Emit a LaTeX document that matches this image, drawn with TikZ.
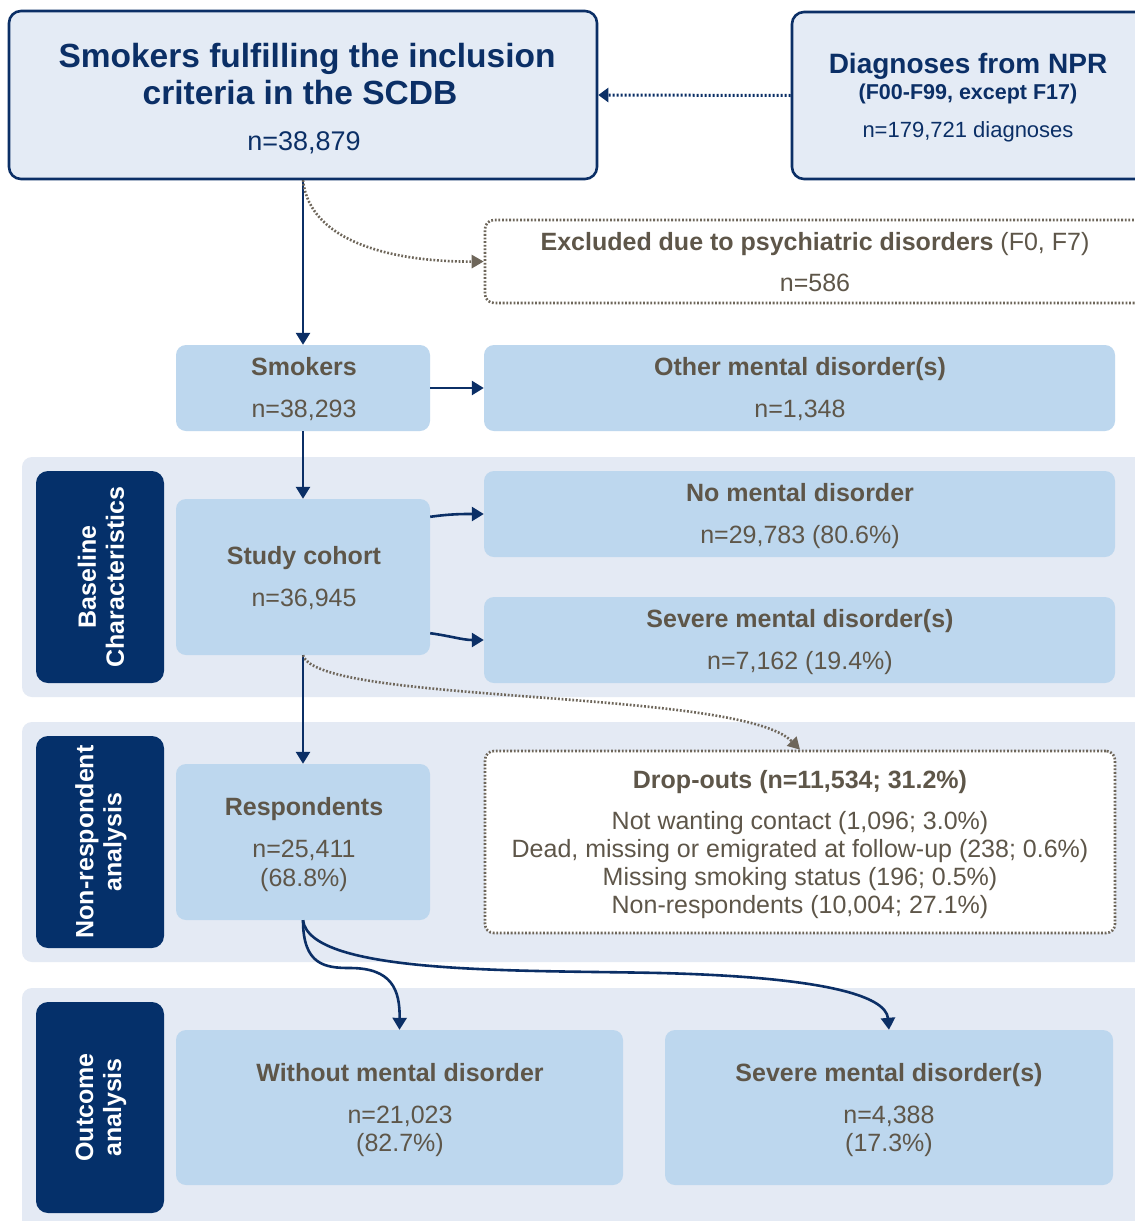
\documentclass[tikz,border=0pt]{standalone}
\usepackage{fontspec}
\setmainfont{Liberation Sans}
\usetikzlibrary{arrows.meta,calc}
\definecolor{navy}{HTML}{0B2F66}
\definecolor{labnavy}{HTML}{05306A}
\definecolor{topfill}{HTML}{E4EBF5}
\definecolor{bandfill}{HTML}{E4EAF4}
\definecolor{nodefill}{HTML}{BDD7EE}
\definecolor{graytxt}{HTML}{5E5649}
\definecolor{dotgray}{HTML}{6E665A}
\begin{document}
\begin{tikzpicture}[x=1pt,y=-1pt,
  topbox/.style={draw=navy,line width=2.6pt,fill=topfill,rounded corners=12pt,inner sep=0pt},
  nbox/.style={fill=nodefill,rounded corners=10pt,inner sep=0pt},
  band/.style={fill=bandfill,rounded corners=10pt,inner sep=0pt},
  labbox/.style={fill=labnavy,rounded corners=12pt,inner sep=0pt},
  dotbox/.style={draw=dotgray,line width=2.6pt,dash pattern=on 1.8pt off 1.8pt,rounded corners=9pt,fill=white,inner sep=0pt},
  gtxt/.style={text=graytxt,anchor=base,inner sep=0pt,font=\fontsize{25}{28}\selectfont},
  ntxt/.style={text=navy,anchor=base,inner sep=0pt},
  labtxt/.style={text=white,rotate=90,align=center,inner sep=0pt,font=\bfseries\fontsize{25}{28}\selectfont},
  arr/.style={draw=navy,line width=2.6pt,-{Triangle[width=14pt,length=12pt]}},
  dotarr/.style={draw=dotgray,line width=2.6pt,dash pattern=on 1.8pt off 1.8pt,-{Triangle[width=13pt,length=12pt]}},
  navydot/.style={draw=navy,line width=3pt,dash pattern=on 2pt off 2pt,-{Triangle[width=14pt,length=10pt]}}
]
\clip (0,0) rectangle (1135,1221);
\fill[white] (0,0) rectangle (1135,1221);

% bands
\node[band,minimum width=1160pt,minimum height=240pt] (b1) at (602,577) {};
\node[band,minimum width=1160pt,minimum height=240pt] (b2) at (602,842) {};
\node[band,minimum width=1160pt,minimum height=260pt] (b3) at (602,1118) {};

% top boxes
\node[topbox,minimum width=588pt,minimum height=168pt] (top) at (303,95) {};
\node[ntxt,font=\bfseries\fontsize{33.5}{37}\selectfont] (toptA) at (307,67) {Smokers fulfilling the inclusion};
\node[ntxt,font=\bfseries\fontsize{33.5}{37}\selectfont] (toptB) at (300,104) {criteria in the SCDB};
\node[ntxt,font=\fontsize{27}{30}\selectfont] (toptC) at (304,150) {n=38,879};

\node[topbox,minimum width=358pt,minimum height=167pt] (npr) at (971,95.5) {};
\node[ntxt,font=\bfseries\fontsize{28}{30}\selectfont] (nprA) at (968,73) {Diagnoses from NPR};
\node[ntxt,font=\bfseries\fontsize{21.5}{24}\selectfont] (nprB) at (968,99) {(F00-F99, except F17)};
\node[ntxt,font=\fontsize{22}{24}\selectfont] (nprC) at (968,137) {n=179,721 diagnoses};

\node[dotbox,minimum width=665pt,minimum height=83pt] (exc) at (817.5,261.5) {};
\node[gtxt] (excA) at (815,250) {\textbf{Excluded due to psychiatric disorders} (F0, F7)};
\node[gtxt] (excB) at (815,291) {n=586};

% smokers row
\node[nbox,minimum width=254pt,minimum height=86pt] (smk) at (303,388) {};
\node[gtxt] (smkA) at (304,375) {\textbf{Smokers}};
\node[gtxt] (smkB) at (304,417) {n=38,293};
\node[nbox,minimum width=631pt,minimum height=86pt] (oth) at (799.5,388) {};
\node[gtxt] (othA) at (800,375) {\textbf{Other mental disorder(s)}};
\node[gtxt] (othB) at (800,417) {n=1,348};

% baseline
\node[labbox,minimum width=128pt,minimum height=212pt] (lab1) at (100,577) {};
\node[labtxt] (lab1t) at (101,577) {Baseline\\Characteristics};
\node[nbox,minimum width=254pt,minimum height=156pt] (sc) at (303,577) {};
\node[gtxt] (scA) at (304,564) {\textbf{Study cohort}};
\node[gtxt] (scB) at (304,606) {n=36,945};
\node[nbox,minimum width=631pt,minimum height=86pt] (nomd) at (799.5,514) {};
\node[gtxt] (nomdA) at (800,501) {\textbf{No mental disorder}};
\node[gtxt] (nomdB) at (800,543) {n=29,783 (80.6\%)};
\node[nbox,minimum width=631pt,minimum height=86pt] (smd) at (799.5,640) {};
\node[gtxt] (smdA) at (800,627) {\textbf{Severe mental disorder(s)}};
\node[gtxt] (smdB) at (800,669) {n=7,162 (19.4\%)};

% non-respondent
\node[labbox,minimum width=128pt,minimum height=212pt] (lab2) at (100,842) {};
\node[labtxt] (lab2t) at (101,842) {Non-respondent\\analysis};
\node[nbox,minimum width=254pt,minimum height=156pt] (resp) at (303,842) {};
\node[gtxt] (respA) at (304,815) {\textbf{Respondents}};
\node[gtxt] (respB) at (304,857) {n=25,411};
\node[gtxt] (respC) at (304,886) {(68.8\%)};
\node[dotbox,minimum width=630pt,minimum height=182pt] (drop) at (800,842) {};
\node[gtxt] (dropA) at (800,788) {\textbf{Drop-outs (n=11,534; 31.2\%)}};
\node[gtxt] (dropB) at (800,829) {Not wanting contact (1,096; 3.0\%)};
\node[gtxt] (dropC) at (800,857) {Dead, missing or emigrated at follow-up (238; 0.6\%)};
\node[gtxt] (dropD) at (800,885) {Missing smoking status (196; 0.5\%)};
\node[gtxt] (dropE) at (800,913) {Non-respondents (10,004; 27.1\%)};

% outcome
\node[labbox,minimum width=128pt,minimum height=211pt] (lab3) at (100,1107.5) {};
\node[labtxt] (lab3t) at (101,1107.5) {Outcome\\analysis};
\node[nbox,minimum width=447pt,minimum height=155pt] (wmd) at (399.5,1107.5) {};
\node[gtxt] (wmdA) at (400,1081) {\textbf{Without mental disorder}};
\node[gtxt] (wmdB) at (400,1123) {n=21,023};
\node[gtxt] (wmdC) at (400,1151) {(82.7\%)};
\node[nbox,minimum width=448pt,minimum height=155pt] (smd2) at (889,1107.5) {};
\node[gtxt] (smd2A) at (889,1081) {\textbf{Severe mental disorder(s)}};
\node[gtxt] (smd2B) at (889,1123) {n=4,388};
\node[gtxt] (smd2C) at (889,1151) {(17.3\%)};

% connectors
\draw[navydot] (npr.west) -- (top.east);
\draw[arr] (top.south) -- (smk.north);
\draw[dotarr] (top.south) .. controls (310,245) and (400,262) .. (exc.west);
\draw[arr] (smk.east) -- (oth.west);
\draw[arr] (smk.south) -- (sc.north);
\draw[arr] ([yshift=-18pt]sc.north east) to[out=8,in=180] (nomd.west);
\draw[arr] ([yshift=22pt]sc.south east) to[out=-8,in=180] (smd.west);
\draw[arr] (sc.south) -- (resp.north);
\draw[dotarr] (sc.south) .. controls (318,705) and (740,688) .. (drop.north);
\draw[arr] (resp.south) .. controls (303,965) and (325,968) .. (350,968) .. controls (392,968) and (400,990) .. (wmd.north);
\draw[arr] (resp.south) .. controls (310,975) and (520,970) .. (660,973) .. controls (820,977) and (886,995) .. (smd2.north);
\end{tikzpicture}
\end{document}
